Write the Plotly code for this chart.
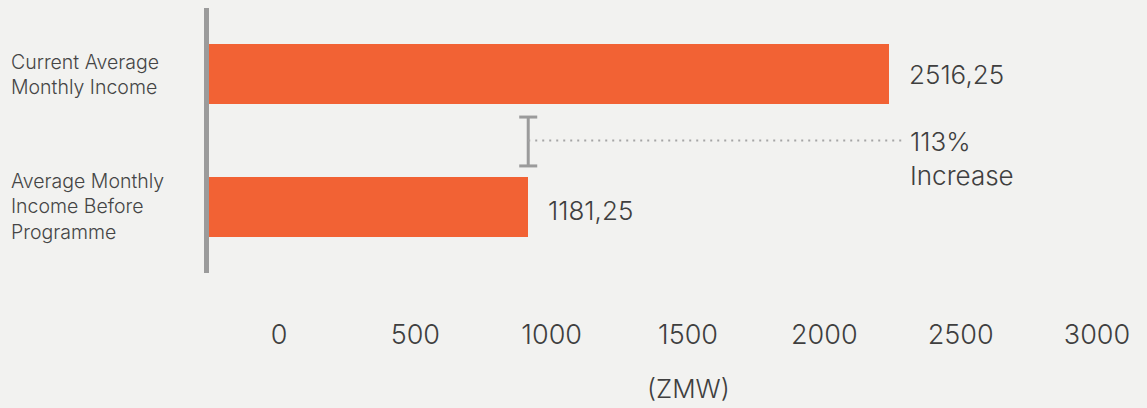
import plotly.graph_objects as go

# Data
categories = ["Current Average<br>Monthly Income", "Average Monthly<br>Income Before<br>Programme"]
income = [2516.25, 1181.25]
tick_values = [0, 500, 1000, 1500, 2000, 2500, 3000]
unit_label = "(ZMW)"

current, before = income
increase_pct = round((current - before) / before * 100)

# Layout constants (pixels)
W, H = 1147, 408
M_L, M_R, M_T, M_B = 209, 7, 8, 92
PLOT_W = W - M_L - M_R
PAPER_H = H - M_T - M_B
PLOT_BOTTOM_PX = 273
BG = "#f2f2f0"
BAR = "#f26234"
GREY = "#9b9b9b"
TEXT = "#3f3f3f"
FONT = "Inter"
WEIGHT = 300

def fmt(v):
    return f"{v:.2f}".replace(".", ",")

fig = go.Figure()

fig.add_trace(go.Bar(
    y=categories, x=income, orientation="h",
    width=0.453, marker=dict(color=BAR, line=dict(width=0)),
    hoverinfo="skip", showlegend=False,
))

# carrier trace for the tick-label axis
fig.add_trace(go.Scatter(
    x=[tick_values[0], tick_values[-1]], y=[categories[0], categories[0]],
    xaxis="x2", yaxis="y", mode="markers",
    marker=dict(opacity=0), hoverinfo="skip", showlegend=False,
))

y_dom0 = (M_T + PAPER_H - PLOT_BOTTOM_PX) / PAPER_H

fig.update_layout(
    width=W, height=H,
    margin=dict(l=M_L, r=M_R, t=M_T, b=M_B, pad=0),
    paper_bgcolor=BG, plot_bgcolor=BG,
    font=dict(family=FONT, color=TEXT, size=24, weight=WEIGHT),
    bargap=0,
    xaxis=dict(range=[0, 3445], visible=False, fixedrange=True),
    xaxis2=dict(
        overlaying="x", anchor="free", position=0, side="bottom",
        range=[-256.7, 3157.7], tickvals=tick_values,
        ticktext=[str(t) for t in tick_values],
        showgrid=False, zeroline=False, showline=False, ticks="",
        tickfont=dict(size=27, color=TEXT, family=FONT, weight=WEIGHT),
        fixedrange=True,
    ),
    yaxis=dict(
        type="category", categoryarray=categories,
        range=[1.5, -0.5], domain=[y_dom0, 1],
        showticklabels=False, showgrid=False, zeroline=False,
        showline=True, linecolor=GREY, linewidth=5,
        fixedrange=True,
    ),
)

# category labels, left aligned
for cat in categories:
    fig.add_annotation(
        xref="paper", yref="y", x=(9 - M_L) / PLOT_W, y=cat,
        text=cat, xanchor="left", align="left", showarrow=False,
        font=dict(size=19.5, color="#454545", family=FONT, weight=WEIGHT),
    )

# value labels
for i, (cat, v) in enumerate(zip(categories, income)):
    fig.add_annotation(
        xref="x", yref="y", x=v, y=cat, xshift=18, yshift=-4 * i, xanchor="left",
        text=fmt(v), showarrow=False,
        font=dict(size=26, color=TEXT, family=FONT, weight=WEIGHT),
    )

# bracket between the two bars
y_top, y_bot, y_mid = 0.323, 0.692, 0.5
line = dict(color=GREY, width=3)
fig.add_shape(type="line", xref="x", yref="y", x0=before, x1=before, y0=y_top, y1=y_bot, line=line)
for yy in (y_top, y_bot):
    fig.add_shape(type="line", xref="x", yref="y", xsizemode="pixel", xanchor=before,
                  x0=-9, x1=9, y0=yy, y1=yy, line=line)
fig.add_shape(type="line", xref="x", yref="y", x0=before, x1=current * 1.02, y0=y_mid, y1=y_mid,
              line=dict(color="#a5a5a5", width=2, dash="2px,5px"))

fig.add_annotation(
    xref="x", yref="y", x=current, y=y_mid, xshift=19, yshift=17,
    xanchor="left", yanchor="top", align="left",
    text=f"{increase_pct}%<br>Increase", showarrow=False,
    font=dict(size=26, color=TEXT, family=FONT, weight=WEIGHT),
)

# unit caption under the scale
fig.add_annotation(
    xref="x2", yref="paper", x=1500, y=(M_T + PAPER_H - 388) / PAPER_H,
    text=unit_label, showarrow=False, yanchor="middle",
    font=dict(size=26, color=TEXT, family=FONT, weight=WEIGHT),
)

fig.write_html("out.html")
